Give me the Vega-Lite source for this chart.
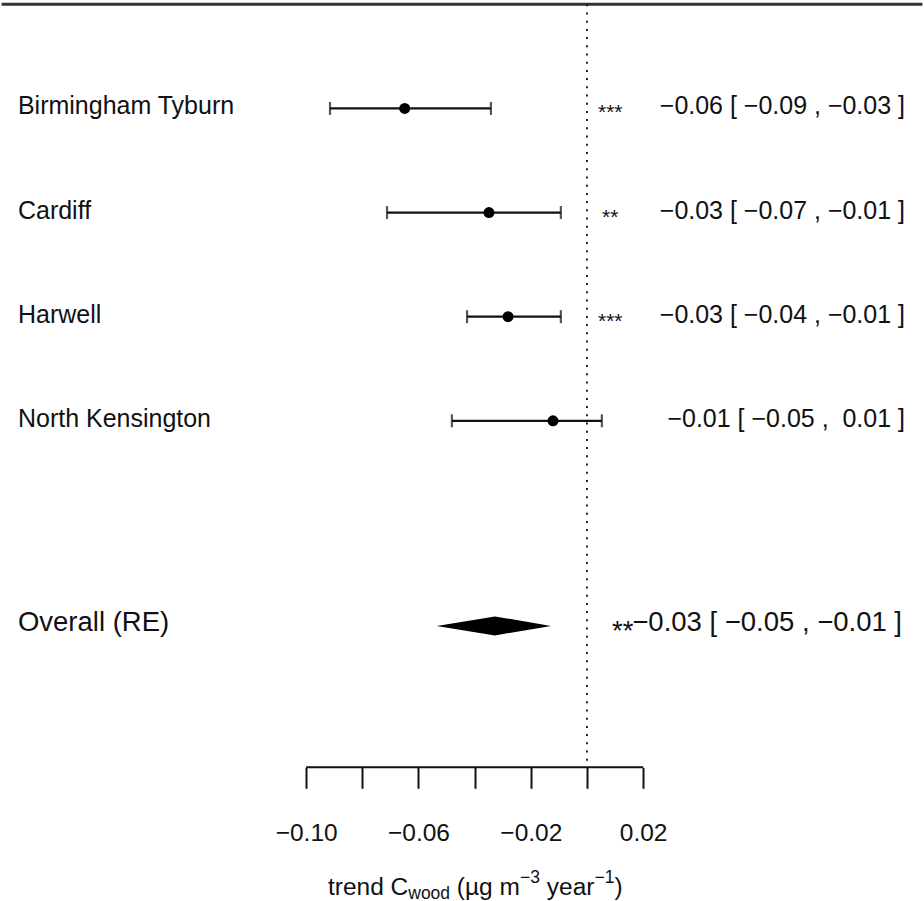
{
  "$schema": "https://vega.github.io/schema/vega-lite/v6.json",
  "width": 924,
  "height": 763,
  "padding": {"left": 0, "top": 2.3, "right": 0, "bottom": 0},
  "background": "white",
  "config": {"view": {"stroke": null}, "text": {"font": "Liberation Sans", "color": "#111"}},
  "datasets": {
    "studies": [
      {"study": "Birmingham Tyburn", "row": 7, "est": -0.0649, "lo": -0.0915, "hi": -0.0342, "stars": "***", "ci": "−0.06 [ −0.09 , −0.03 ]"},
      {"study": "Cardiff", "row": 6, "est": -0.0349, "lo": -0.0712, "hi": -0.0093, "stars": "**", "ci": "−0.03 [ −0.07 , −0.01 ]"},
      {"study": "Harwell", "row": 5, "est": -0.0281, "lo": -0.0427, "hi": -0.0093, "stars": "***", "ci": "−0.03 [ −0.04 , −0.01 ]"},
      {"study": "North Kensington", "row": 4, "est": -0.0121, "lo": -0.0481, "hi": 0.0053, "stars": "", "ci": "−0.01 [ −0.05 , \u00a00.01 ]"}
    ],
    "overall": [
      {"study": "Overall (RE)", "row": 2.03, "est": -0.0328, "lo": -0.0534, "hi": -0.0128, "stars": "**", "ci": "−0.03 [ −0.05 , −0.01 ]"}
    ],
    "diamond": [
      {"x": -0.0535, "top": 2.03, "bot": 2.03},
      {"x": -0.0328, "top": 2.1213, "bot": 1.9387},
      {"x": -0.0128, "top": 2.03, "bot": 2.03}
    ],
    "one": [{}]
  },
  "layer": [
    {
      "data": {"name": "studies"},
      "mark": {"type": "rule", "color": "#111", "strokeWidth": 2.2},
      "encoding": {
        "x": {"field": "lo", "type": "quantitative", "title": null,
          "scale": {"domain": [-0.209, 0.12], "nice": false, "zero": false},
          "axis": {"values": [-0.1, -0.08, -0.06, -0.04, -0.02, 0, 0.02], "format": ".2f",
            "labelExpr": "abs(round(datum.value*100)) % 4 == 2 ? datum.label : ''",
            "domain": false, "grid": false, "ticks": true, "tickSize": 21, "tickWidth": 2, "tickColor": "#111",
            "labelFont": "Liberation Sans", "labelFontSize": 24.5, "labelColor": "#111", "labelPadding": 33,
            "labelFlush": false, "labelOverlap": false, "title": null}},
        "x2": {"field": "hi"},
        "y": {"field": "row", "type": "quantitative", "scale": {"domain": [0.672, 8], "nice": false, "zero": false}, "axis": null}
      }
    },
    {
      "data": {"name": "one"},
      "mark": {"type": "rule", "color": "#333", "strokeWidth": 3},
      "encoding": {
        "x": {"datum": -0.20843, "type": "quantitative", "title": null},
        "x2": {"datum": 0.11943},
        "y": {"datum": 8, "type": "quantitative", "axis": null}
      }
    },
    {
      "data": {"name": "one"},
      "mark": {"type": "rule", "color": "#111", "strokeWidth": 1.8, "strokeDash": [2, 6.2]},
      "encoding": {
        "x": {"datum": 0, "type": "quantitative", "title": null},
        "y": {"datum": 8, "type": "quantitative", "axis": null},
        "y2": {"datum": 0.672}
      }
    },
    {
      "data": {"name": "one"},
      "mark": {"type": "rule", "color": "#111", "strokeWidth": 2},
      "encoding": {
        "x": {"datum": -0.1, "type": "quantitative", "title": null},
        "x2": {"datum": 0.02},
        "y": {"datum": 0.672, "type": "quantitative", "axis": null}
      }
    },
    {
      "data": {"name": "studies"},
      "mark": {"type": "tick", "orient": "vertical", "color": "#111", "size": 13, "thickness": 2.2},
      "encoding": {
        "x": {"field": "lo", "type": "quantitative", "title": null},
        "y": {"field": "row", "type": "quantitative", "axis": null}
      }
    },
    {
      "data": {"name": "studies"},
      "mark": {"type": "tick", "orient": "vertical", "color": "#111", "size": 13, "thickness": 2.2},
      "encoding": {
        "x": {"field": "hi", "type": "quantitative", "title": null},
        "y": {"field": "row", "type": "quantitative", "axis": null}
      }
    },
    {
      "data": {"name": "studies"},
      "mark": {"type": "point", "shape": "circle", "filled": true, "color": "#000", "size": 120, "opacity": 1},
      "encoding": {
        "x": {"field": "est", "type": "quantitative", "title": null},
        "y": {"field": "row", "type": "quantitative", "axis": null}
      }
    },
    {
      "data": {"name": "diamond"},
      "mark": {"type": "area", "orient": "vertical", "color": "#000", "opacity": 1},
      "encoding": {
        "x": {"field": "x", "type": "quantitative", "title": null},
        "y": {"field": "top", "type": "quantitative", "axis": null},
        "y2": {"field": "bot"}
      }
    },
    {
      "data": {"name": "studies"},
      "mark": {"type": "text", "align": "left", "baseline": "middle", "fontSize": 25, "dy": -2},
      "encoding": {
        "x": {"datum": -0.20261, "type": "quantitative", "title": null},
        "y": {"field": "row", "type": "quantitative", "axis": null},
        "text": {"field": "study"}
      }
    },
    {
      "data": {"name": "studies"},
      "mark": {"type": "text", "align": "center", "baseline": "alphabetic", "fontSize": 21, "dy": 11},
      "encoding": {
        "x": {"datum": 0.0083, "type": "quantitative", "title": null},
        "y": {"field": "row", "type": "quantitative", "axis": null},
        "text": {"field": "stars"}
      }
    },
    {
      "data": {"name": "studies"},
      "mark": {"type": "text", "align": "right", "baseline": "middle", "fontSize": 25, "dy": -2},
      "encoding": {
        "x": {"datum": 0.11323, "type": "quantitative", "title": null},
        "y": {"field": "row", "type": "quantitative", "axis": null},
        "text": {"field": "ci"}
      }
    },
    {
      "data": {"name": "overall"},
      "mark": {"type": "text", "align": "left", "baseline": "middle", "fontSize": 27.5, "dy": -3},
      "encoding": {
        "x": {"datum": -0.20261, "type": "quantitative", "title": null},
        "y": {"field": "row", "type": "quantitative", "axis": null},
        "text": {"field": "study"}
      }
    },
    {
      "data": {"name": "overall"},
      "mark": {"type": "text", "align": "center", "baseline": "alphabetic", "fontSize": 27.5, "dy": 14.5},
      "encoding": {
        "x": {"datum": 0.0127, "type": "quantitative", "title": null},
        "y": {"field": "row", "type": "quantitative", "axis": null},
        "text": {"field": "stars"}
      }
    },
    {
      "data": {"name": "overall"},
      "mark": {"type": "text", "align": "right", "baseline": "middle", "fontSize": 27.5, "dy": -3},
      "encoding": {
        "x": {"datum": 0.11217, "type": "quantitative", "title": null},
        "y": {"field": "row", "type": "quantitative", "axis": null},
        "text": {"field": "ci"}
      }
    },
    {
      "data": {"name": "one"},
      "mark": {"type": "text", "align": "left", "baseline": "alphabetic", "fontSize": 24.5},
      "encoding": {
        "x": {"datum": -0.09223, "type": "quantitative", "title": null},
        "y": {"datum": -0.551, "type": "quantitative", "axis": null},
        "text": {"value": "trend C"}
      }
    },
    {
      "data": {"name": "one"},
      "mark": {"type": "text", "align": "left", "baseline": "alphabetic", "fontSize": 17.5},
      "encoding": {
        "x": {"datum": -0.06363, "type": "quantitative", "title": null},
        "y": {"datum": -0.59, "type": "quantitative", "axis": null},
        "text": {"value": "wood"}
      }
    },
    {
      "data": {"name": "one"},
      "mark": {"type": "text", "align": "left", "baseline": "alphabetic", "fontSize": 24.5},
      "encoding": {
        "x": {"datum": -0.04633, "type": "quantitative", "title": null},
        "y": {"datum": -0.551, "type": "quantitative", "axis": null},
        "text": {"value": "(µg m"}
      }
    },
    {
      "data": {"name": "one"},
      "mark": {"type": "text", "align": "left", "baseline": "alphabetic", "fontSize": 17.5},
      "encoding": {
        "x": {"datum": -0.02386, "type": "quantitative", "title": null},
        "y": {"datum": -0.436, "type": "quantitative", "axis": null},
        "text": {"value": "−3"}
      }
    },
    {
      "data": {"name": "one"},
      "mark": {"type": "text", "align": "left", "baseline": "alphabetic", "fontSize": 24.5},
      "encoding": {
        "x": {"datum": -0.01431, "type": "quantitative", "title": null},
        "y": {"datum": -0.551, "type": "quantitative", "axis": null},
        "text": {"value": "year"}
      }
    },
    {
      "data": {"name": "one"},
      "mark": {"type": "text", "align": "left", "baseline": "alphabetic", "fontSize": 17.5},
      "encoding": {
        "x": {"datum": 0.00267, "type": "quantitative", "title": null},
        "y": {"datum": -0.436, "type": "quantitative", "axis": null},
        "text": {"value": "−1"}
      }
    },
    {
      "data": {"name": "one"},
      "mark": {"type": "text", "align": "left", "baseline": "alphabetic", "fontSize": 24.5},
      "encoding": {
        "x": {"datum": 0.00979, "type": "quantitative", "title": null},
        "y": {"datum": -0.551, "type": "quantitative", "axis": null},
        "text": {"value": ")"}
      }
    }
  ]
}
